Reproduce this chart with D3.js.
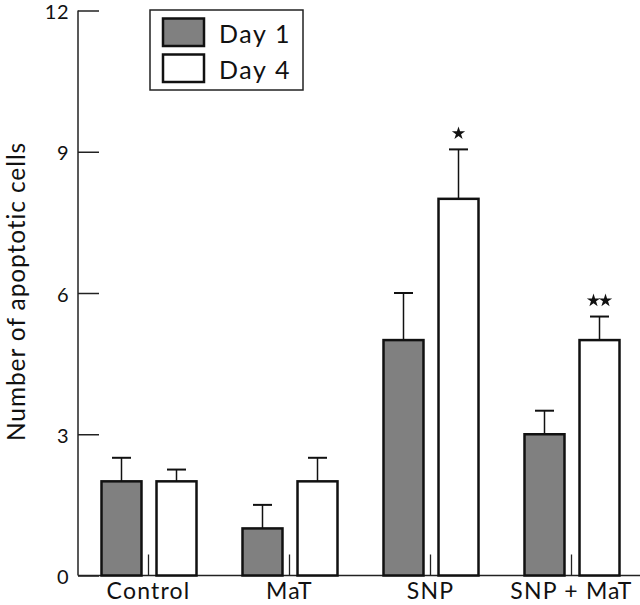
<!DOCTYPE html>
<html><head><meta charset="utf-8">
<script src="https://cdn.jsdelivr.net/npm/d3@7"></script>
<style>body{margin:0;background:#fff}svg{display:block}text{font-family:Lato,"Open Sans",sans-serif;fill:#111}</style>
</head><body>
<svg id="c" width="640" height="605"></svg>
<script>
const categories = ["Control", "MaT", "SNP", "SNP + MaT"];
const seriesNames = ["Day 1", "Day 4"];
const day1 = [2, 1, 5, 3];
const day1Err = [0.5, 0.5, 1.0, 0.5];
const day4 = [2, 2, 8, 5];
const day4Err = [0.25, 0.5, 1.05, 0.5];
const stars = [null, null, 1, 2]; // number of stars above Day 4 bars
const yTicks = [0, 3, 6, 9, 12];

const svg = d3.select("#c");
const y = d3.scaleLinear().domain([0, 12]).range([575.5, 10.5]);
const x = d3.scaleBand().domain(categories).range([78, 642]);
const xs = d3.scaleBand().domain(seriesNames).range([-47, 48]).paddingInner(0.273);
const fills = {"Day 1": "#808080", "Day 4": "#ffffff"};

const rows = [];
categories.forEach((c, i) => {
  rows.push({c, s: "Day 1", v: day1[i], e: day1Err[i], st: null});
  rows.push({c, s: "Day 4", v: day4[i], e: day4Err[i], st: stars[i]});
});
const cx = d => x(d) + x.bandwidth() / 2;

// y axis
const ya = svg.append("g").attr("transform", "translate(78,0)")
  .call(d3.axisRight(y).tickValues(yTicks).tickSize(21).tickFormat(d => ""));
ya.select(".domain").attr("d", `M0,${y(12)}V${y(0)}`).attr("stroke", "#222").attr("stroke-width", 1.5);
ya.selectAll(".tick line").attr("stroke", "#222").attr("stroke-width", 1.5);
svg.append("g").selectAll("text").data(yTicks).join("text")
  .attr("x", 69).attr("y", d => y(d) + 8.5).attr("text-anchor", "end")
  .style("font-size", "20px").style("letter-spacing", "0.5px").text(d => d);

// x axis
const xa = svg.append("g").attr("transform", `translate(0,${y(0)})`)
  .call(d3.axisBottom(x).tickSize(-21).tickFormat(""));
xa.select(".domain").attr("d", "M78,0H640").attr("stroke", "#222").attr("stroke-width", 1.5);
xa.selectAll(".tick line").attr("stroke", "#222").attr("stroke-width", 1.3);
svg.append("g").selectAll("text").data(categories).join("text")
  .attr("x", d => cx(d)).attr("y", 599).attr("text-anchor", "middle")
  .style("font-size", "23px").style("letter-spacing", "1.2px").text(d => d);

// axis title
svg.append("text").attr("transform", "translate(25,291.5) rotate(-90)")
  .attr("text-anchor", "middle").style("font-size", "24.5px").style("letter-spacing", "0.9px")
  .text("Number of apoptotic cells");

// error bars
const eg = svg.append("g").attr("stroke", "#111").attr("stroke-width", 1.5);
rows.forEach(d => {
  const bx = cx(d.c) + xs(d.s) + xs.bandwidth() / 2;
  eg.append("line").attr("x1", bx).attr("x2", bx).attr("y1", y(d.v)).attr("y2", y(d.v + d.e));
  eg.append("line").attr("x1", bx - 9.5).attr("x2", bx + 9.5).attr("y1", y(d.v + d.e)).attr("y2", y(d.v + d.e)).attr("stroke-width", 2);
});

// bars
svg.append("g").selectAll("rect").data(rows).join("rect")
  .attr("x", d => cx(d.c) + xs(d.s)).attr("width", xs.bandwidth())
  .attr("y", d => y(d.v)).attr("height", d => y(0) - y(d.v))
  .attr("fill", d => fills[d.s]).attr("stroke", "#111").attr("stroke-width", 2.5);

// stars
const starSym = d3.symbol().type(d3.symbolStar).size(55);
rows.filter(d => d.st).forEach(d => {
  const bx = cx(d.c) + xs(d.s) + xs.bandwidth() / 2;
  const sy = y(d.v + d.e) - 16;
  for (let k = 0; k < d.st; k++) {
    const off = (k - (d.st - 1) / 2) * 12;
    svg.append("path").attr("d", starSym()).attr("transform", `translate(${bx + off},${sy})`).attr("fill", "#111");
  }
});

// legend
const lg = svg.append("g");
lg.append("rect").attr("x", 150).attr("y", 10).attr("width", 153).attr("height", 80)
  .attr("fill", "#fff").attr("stroke", "#222").attr("stroke-width", 1.5);
seriesNames.forEach((s, i) => {
  lg.append("rect").attr("x", 163).attr("y", 18.5 + i * 36).attr("width", 41).attr("height", 27.5)
    .attr("fill", fills[s]).attr("stroke", "#111").attr("stroke-width", 2.5);
  lg.append("text").attr("x", 219).attr("y", 43 + i * 36).style("font-size", "25px").style("letter-spacing", "1.6px").text(s);
});
</script>
</body></html>
